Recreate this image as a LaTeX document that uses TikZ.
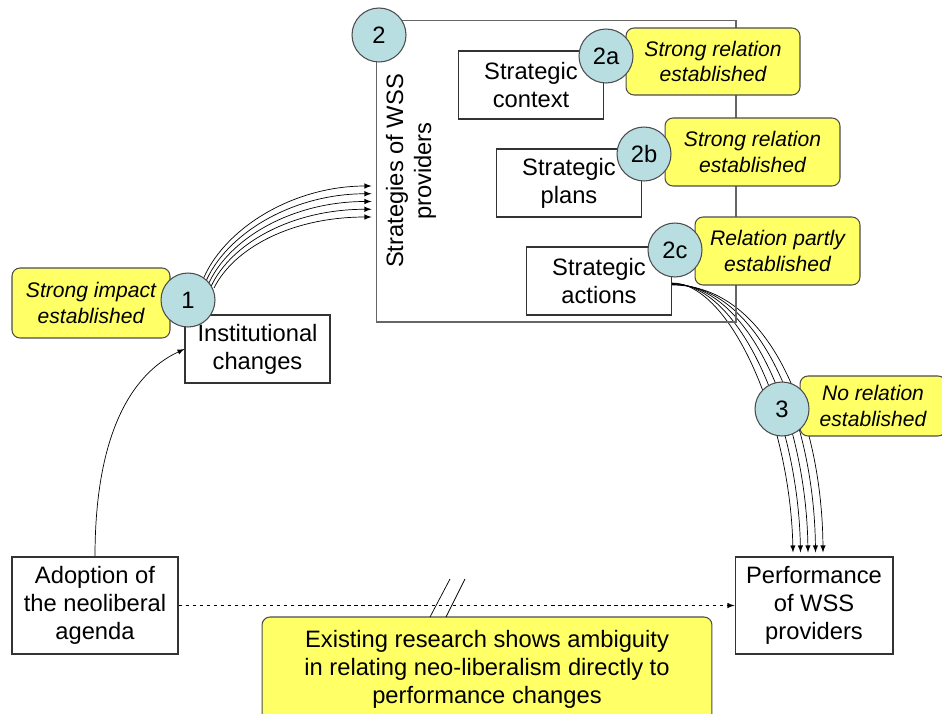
\documentclass[tikz,border=0pt]{standalone}
\usepackage{fontspec}
\setmainfont{Liberation Sans}
\usetikzlibrary{backgrounds}

\definecolor{numfill}{RGB}{184,222,226}
\definecolor{notefill}{RGB}{255,255,102}

\newcommand{\boxfont}{\fontsize{13.5}{15.9}\selectfont}
\newcommand{\notefont}{\fontsize{12}{14.7}\selectfont\itshape}

\tikzstyle{plain box}=[draw=black!80, fill=white, align=center, inner sep=2pt,
  minimum width=2.9cm, minimum height=1.36cm, font=\boxfont]
\tikzstyle{index blue}=[circle, draw=black!70, fill=numfill, inner sep=0pt,
  minimum size=1.08cm, font=\boxfont]
\tikzstyle{yellow note}=[draw=black!70, fill=notefill, rounded corners=0.16cm,
  align=center, inner sep=2pt, font=\notefont]

\begin{document}
\begin{tikzpicture}[x=0.02cm,y=-0.02cm,>=latex,line width=0.6pt]
    \useasboundingbox (0,0) rectangle (942,713);

    % Strategies frame
    \node[draw=black!60, minimum width=7.2cm, minimum height=6.04cm] (strat) at (556,171) {};
    \node[rotate=90, align=center, font=\boxfont] (stratlabel) at (411,171) {Strategies of WSS\\providers};

    % Boxes
    \node[plain box] (context) at (531,85) {Strategic\\context};
    \node[plain box] (plans) at (569,183) {Strategic\\plans};
    \node[plain box] (actions) at (599,281) {Strategic\\actions};
    \node[plain box] (inst) at (257.5,349) {Institutional\\changes};
    \node[plain box, minimum width=3.32cm, minimum height=1.94cm] (adopt) at (95,605.5) {Adoption of\\the neoliberal\\agenda};
    \node[plain box, minimum width=3.16cm, minimum height=1.94cm] (perf) at (814,605.5) {Performance\\of WSS\\providers};

    % Findings
    \node[yellow note, minimum width=3.16cm, minimum height=1.4cm] (note1) at (91,303) {Strong impact\\established};
    \node[yellow note, minimum width=3.48cm, minimum height=1.34cm] (note2a) at (713,61.5) {Strong relation\\established};
    \node[yellow note, minimum width=3.5cm, minimum height=1.36cm] (note2b) at (752.5,152) {Strong relation\\established};
    \node[yellow note, minimum width=3.3cm, minimum height=1.36cm] (note2c) at (777.5,251) {Relation partly\\established};
    \node[yellow note, minimum width=2.92cm, minimum height=1.2cm] (note3) at (873,406) {No relation\\established};
    \node[yellow note, font=\boxfont, minimum width=9cm, minimum height=2.1cm] (research) at (487,669.5)
      {Existing research shows ambiguity\\in relating neo-liberalism directly to\\performance changes};

    % Numbers
    \node[index blue] (n1) at (188,300) {1};
    \node[index blue] (n2) at (379,35) {2};
    \node[index blue] (n2a) at (606,56) {2a};
    \node[index blue] (n2b) at (644,154) {2b};
    \node[index blue] (n2c) at (675,250) {2c};
    \node[index blue] (n3) at (782,409) {3};

    % Links
    \begin{pgfonlayer}{background}
    \foreach \i in {0,...,4}{
      \draw[->] ([shift={(14+3*\i,-18+1.5*\i)}]n1.center)
        .. controls +(20,-52+3*\i) and +(-80,0) .. ([shift={(-4,15+7.75*\i)}]strat.west);
      \draw[->] ([shift={(0,2+0.5*\i)}]actions.east)
        .. controls +(58+10*\i,0) and +(-3+0.5*\i,-133) .. ([shift={(-21+7.5*\i,-4)}]perf.north);
    }
    \draw[->] (adopt.north) .. controls +(0,-117) and +(-56,26) .. (inst.west);
    \draw[->, dash pattern=on 2pt off 2pt] (adopt.east) -- (perf.west);
    \end{pgfonlayer}

    % Break marks
    \draw (430,617) -- (450,579);
    \draw (446,617) -- (465,579);

\end{tikzpicture}
\end{document}
